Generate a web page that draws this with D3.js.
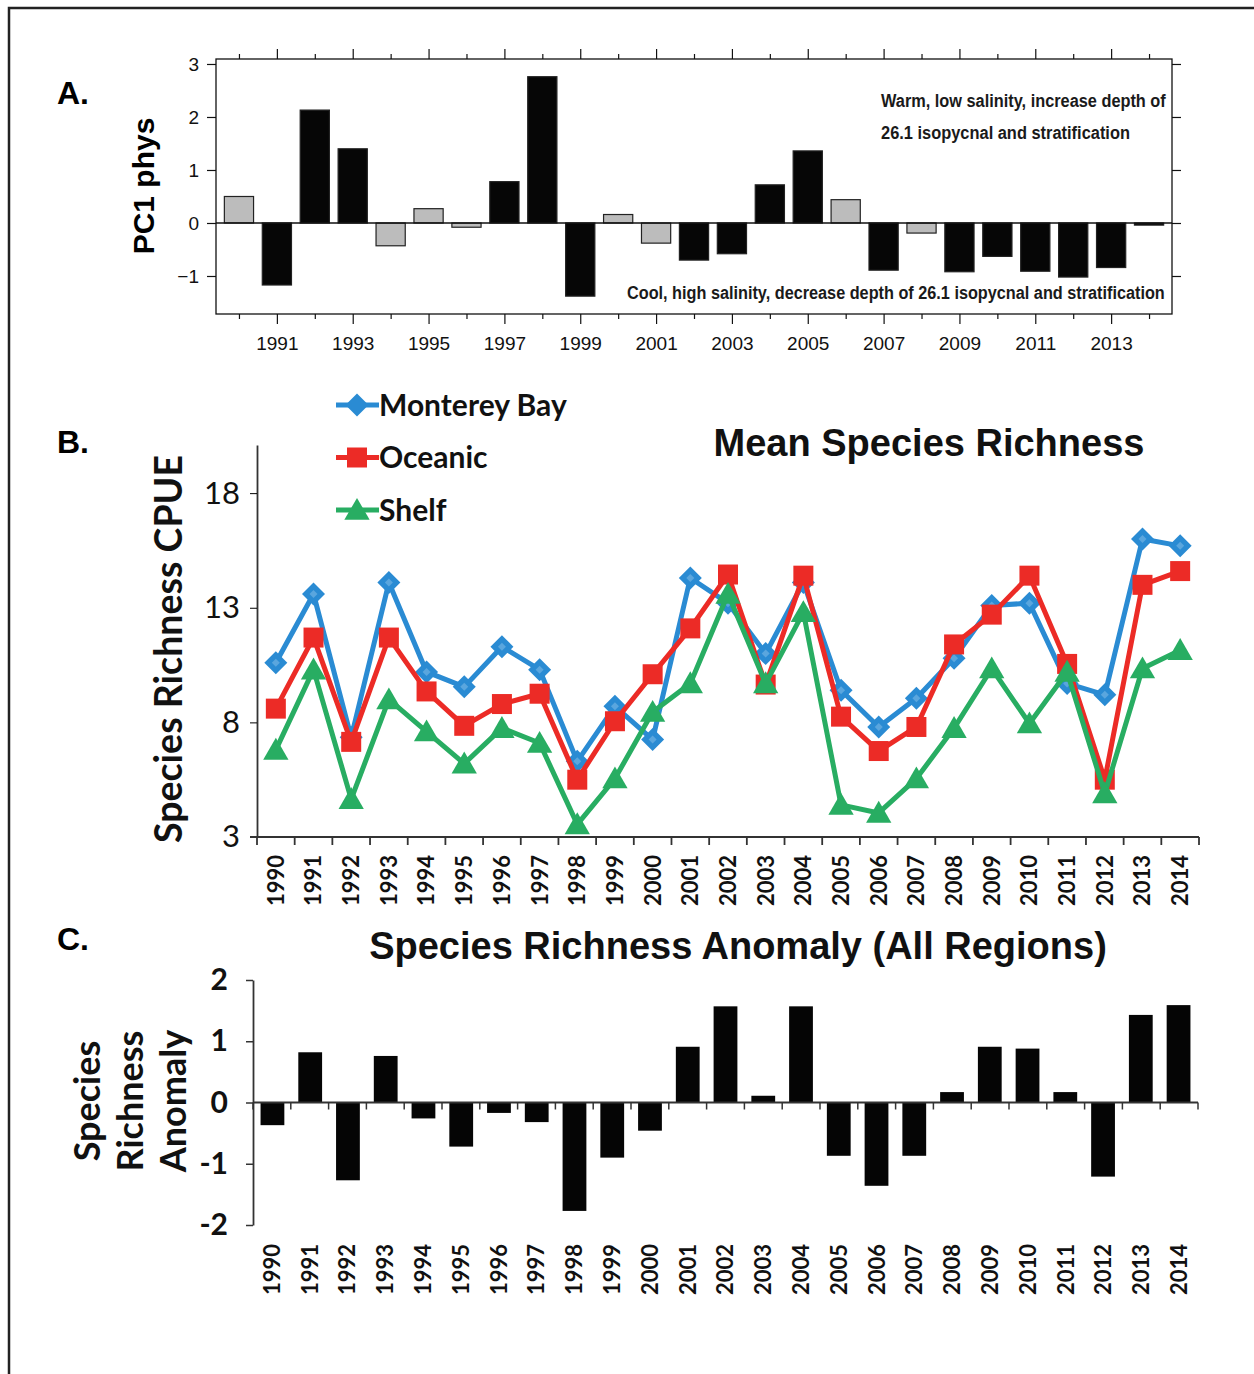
<!DOCTYPE html>
<html>
<head>
<meta charset="utf-8">
<script src="https://cdn.jsdelivr.net/npm/d3@7"></script>
<style>
  body { margin: 0; background: #fff; }
  svg { display: block; }
</style>
</head>
<body>
<div id="chart"></div>
<script>
var width = 1254,
    height = 1374;

// data
var years = d3.range(1990, 2015);

// A. PC1 phys
var pc1Values = [0.50, -1.17, 2.13, 1.40, -0.43, 0.27, -0.08, 0.78, 2.76, -1.38,
                 0.16, -0.38, -0.70, -0.58, 0.72, 1.36, 0.44, -0.89, -0.19, -0.92,
                 -0.63, -0.91, -1.02, -0.84, -0.04];
var pc1Shade  = ["g", "b", "b", "b", "g", "g", "g", "b", "b", "b",
                 "g", "g", "b", "b", "b", "b", "g", "b", "g", "b",
                 "b", "b", "b", "b", "b"];
var pc1Ticks  = [3, 2, 1, 0, -1];

// B. mean species richness
var montereyBay = [10.6, 13.6, 7.35, 14.1, 10.2, 9.55, 11.3, 10.3, 6.3, 8.7,
                   7.25, 14.3, 13.2, 11.0, 14.1, 9.4, 7.8, 9.05, 10.8, 13.1,
                   13.2, 9.7, 9.2, 16.0, 15.7];
var oceanic     = [8.6, 11.7, 7.15, 11.7, 9.35, 7.85, 8.8, 9.25, 5.5, 8.05,
                   10.1, 12.1, 14.45, 9.65, 14.4, 8.25, 6.75, 7.8, 11.4, 12.7,
                   14.4, 10.55, 5.5, 14.0, 14.6];
var shelf       = [6.8, 10.3, 4.65, 9.0, 7.6, 6.2, 7.75, 7.1, 3.55, 5.55,
                   8.45, 9.7, 13.6, 9.7, 12.8, 4.4, 4.05, 5.55, 7.75, 10.35,
                   7.95, 10.2, 4.9, 10.35, 11.15];
var seriesNames = ["Monterey Bay", "Oceanic", "Shelf"];
var seriesColors = ["#2a8bd3", "#ec2b26", "#28ad62"];
var richTicks = [3, 8, 13, 18];

// C. anomaly
var anomaly = [-0.37, 0.82, -1.27, 0.76, -0.26, -0.72, -0.17, -0.32, -1.77, -0.90,
               -0.46, 0.91, 1.57, 0.11, 1.57, -0.87, -1.36, -0.87, 0.17, 0.91,
               0.88, 0.17, -1.21, 1.43, 1.59];
var anomTicks = [2, 1, 0, -1, -2];

var svg = d3.select("#chart").append("svg")
    .attr("width", width)
    .attr("height", height);

// outer frame (top and left edges only show)
svg.append("path")
    .attr("d", "M9,1374 L9,8 L1254,8")
    .attr("fill", "none")
    .attr("stroke", "#222")
    .attr("stroke-width", 2.5);

function panelLabel(txt, x, y) {
    svg.append("text")
        .attr("x", x).attr("y", y)
        .style("font-family", "Liberation Sans, Arial, sans-serif")
        .style("font-weight", "bold")
        .style("font-size", "32px")
        .text(txt);
}
panelLabel("A.", 57, 104);
panelLabel("B.", 57, 453);
panelLabel("C.", 57, 950);

// condensed note text: squeeze horizontally to the wanted width
function note(g, txt, x, y, w) {
    var t = g.append("text")
        .style("font-family", "Liberation Sans Narrow, Arial Narrow, Liberation Sans, sans-serif")
        .style("font-weight", "bold").style("font-size", "19px")
        .attr("fill", "#1a1a1a")
        .text(txt);
    var k = w / t.node().getComputedTextLength();
    t.attr("transform", "translate(" + x + "," + y + ") scale(" + k + ",1)");
}

// Panel A
//-----------------------------------------------------
function panelA() {
    var left = 216, right = 1172, top = 59, bottom = 314;
    var x = d3.scaleBand().domain(years).range([220, 1168]).paddingInner(0.23).paddingOuter(0.115);
    var y = d3.scaleLinear().domain([-1.717, 3.094]).range([bottom, top]);
    var g = svg.append("g");
    var font = "Liberation Sans, Arial, sans-serif";

    g.append("rect")
        .attr("x", left).attr("y", top)
        .attr("width", right - left).attr("height", bottom - top)
        .attr("fill", "none").attr("stroke", "#111").attr("stroke-width", 1.3);

    var odd = years.filter(function(d) { return d % 2 == 1; });
    var even = years.filter(function(d) { return d % 2 == 0; });
    var xc = function(d) { return x(d) + x.bandwidth() / 2; };
    var xs = d3.scaleLinear().domain([1990, 2014]).range([xc(1990), xc(2014)]);

    g.append("g").attr("transform", "translate(0," + bottom + ")")
        .call(d3.axisBottom(xs).tickValues(odd).tickSize(10).tickPadding(13).tickFormat(d3.format("d")));
    g.append("g").attr("transform", "translate(0," + bottom + ")")
        .call(d3.axisBottom(xs).tickValues(even).tickSize(5).tickFormat(""));
    g.append("g").attr("transform", "translate(0," + top + ")")
        .call(d3.axisTop(xs).tickValues(odd).tickSize(10).tickFormat(""));
    g.append("g").attr("transform", "translate(0," + top + ")")
        .call(d3.axisTop(xs).tickValues(even).tickSize(5).tickFormat(""));
    g.append("g").attr("transform", "translate(" + left + ",0)")
        .call(d3.axisLeft(y).tickValues(pc1Ticks).tickSize(9).tickPadding(8)
            .tickFormat(function(d) { return d < 0 ? "\u2212" + (-d) : d; }));
    g.append("g").attr("transform", "translate(" + right + ",0)")
        .call(d3.axisRight(y).tickValues(pc1Ticks).tickSize(9).tickFormat(""));

    g.selectAll(".domain").remove();
    g.selectAll(".tick line").attr("stroke", "#111").attr("stroke-width", 1.2);
    g.selectAll(".tick text")
        .style("font-family", font).style("font-size", "19px").attr("fill", "#111");

    g.selectAll(".bar")
        .data(years)
        .enter().append("rect")
        .attr("class", "bar")
        .attr("x", function(d) { return x(d); })
        .attr("width", x.bandwidth())
        .attr("y", function(d, i) { return y(Math.max(0, pc1Values[i])); })
        .attr("height", function(d, i) { return Math.abs(y(pc1Values[i]) - y(0)); })
        .attr("fill", function(d, i) { return pc1Shade[i] == "g" ? "#bcbcbc" : "#060606"; })
        .attr("stroke", "#222")
        .attr("stroke-width", 1.2);

    g.append("line")
        .attr("x1", left).attr("x2", right)
        .attr("y1", y(0)).attr("y2", y(0))
        .attr("stroke", "#111").attr("stroke-width", 1.3);

    g.append("text")
        .attr("transform", "translate(154,186) rotate(-90)")
        .attr("text-anchor", "middle")
        .style("font-family", font).style("font-weight", "bold").style("font-size", "30px")
        .text("PC1 phys");

    note(g, "Warm, low salinity, increase depth of", 881, 107, 285);
    note(g, "26.1 isopycnal and stratification", 881, 139, 249);
    note(g, "Cool, high salinity, decrease depth of 26.1 isopycnal and stratification", 627, 299, 538);
}

// markers
function markerPath(kind, s) {
    if (kind == 0) return "M0," + (-s) + "L" + s + ",0L0," + s + "L" + (-s) + ",0Z";
    if (kind == 1) return "M" + (-s) + "," + (-s) + "H" + s + "V" + s + "H" + (-s) + "Z";
    return "M0," + (-s * 1.05) + "L" + (s * 1.1) + "," + (s * 0.85) + "L" + (-s * 1.1) + "," + (s * 0.85) + "Z";
}
var markerSize = [11.5, 10, 11.5];

// Panel B
//-----------------------------------------------------
function panelB() {
    var x = d3.scaleBand().domain(years).range([257, 1199]);
    var y = d3.scaleLinear().domain([3, 20.1]).range([837, 445]);
    var g = svg.append("g");
    var font = "Lato, Open Sans, sans-serif";
    var xc = function(d) { return x(d) + x.bandwidth() / 2; };

    var yAx = g.append("g").attr("transform", "translate(257,0)")
        .call(d3.axisLeft(y).tickValues(richTicks).tickSize(7).tickSizeOuter(0).tickPadding(10));
    yAx.select(".domain").attr("stroke", "#333").attr("stroke-width", 1.8);
    yAx.selectAll(".tick text")
        .style("font-family", font).style("font-size", "31px").attr("fill", "#111");

    var boundaries = years.map(function(d) { return x(d); }).concat([x(2014) + x.bandwidth()]);
    g.append("line")
        .attr("x1", 250).attr("x2", 1199).attr("y1", y(3)).attr("y2", y(3))
        .attr("stroke", "#333").attr("stroke-width", 2.2);
    g.selectAll(".xtick").data(boundaries).enter().append("line")
        .attr("x1", function(d) { return d; }).attr("x2", function(d) { return d; })
        .attr("y1", y(3)).attr("y2", y(3) + 8)
        .attr("stroke", "#333").attr("stroke-width", 1.8);

    g.selectAll(".xlab").data(years).enter().append("text")
        .attr("transform", function(d) { return "translate(" + xc(d) + ",855) rotate(-90)"; })
        .attr("text-anchor", "end")
        .attr("dy", "0.36em")
        .style("font-family", font).style("font-weight", "bold").style("font-size", "22px")
        .attr("fill", "#111")
        .text(function(d) { return d; });

    var series = [montereyBay, oceanic, shelf];
    var line = d3.line()
        .x(function(d, i) { return xc(years[i]); })
        .y(function(d) { return y(d); });

    // blue first, then red, then green on top
    [0, 1, 2].forEach(function(k) {
        g.append("path")
            .datum(series[k])
            .attr("d", line)
            .attr("fill", "none")
            .attr("stroke", seriesColors[k])
            .attr("stroke-width", 5)
            .attr("stroke-linejoin", "round");
        g.selectAll(".m" + k).data(series[k]).enter().append("path")
            .attr("transform", function(d, i) { return "translate(" + xc(years[i]) + "," + y(d) + ")"; })
            .attr("d", markerPath(k, markerSize[k]))
            .attr("fill", seriesColors[k]);
        if (k == 0) {
            // lighter diamond centers
            g.selectAll(".mc").data(montereyBay).enter().append("path")
                .attr("transform", function(d, i) { return "translate(" + xc(years[i]) + "," + y(d) + ")"; })
                .attr("d", markerPath(0, 4))
                .attr("fill", "#5aa6de");
        }
    });

    // legend
    var lg = g.append("g");
    seriesNames.forEach(function(name, k) {
        var ly = 405 + k * 52.5;
        lg.append("line")
            .attr("x1", 336).attr("x2", 379).attr("y1", ly).attr("y2", ly)
            .attr("stroke", seriesColors[k]).attr("stroke-width", 5);
        lg.append("path")
            .attr("transform", "translate(357," + ly + ")")
            .attr("d", markerPath(k, markerSize[k]))
            .attr("fill", seriesColors[k]);
        lg.append("text")
            .attr("x", 379).attr("y", ly).attr("dy", "0.35em")
            .style("font-family", font).style("font-weight", "bold").style("font-size", "30px")
            .attr("fill", "#111")
            .text(name);
    });

    g.append("text")
        .attr("x", 929).attr("y", 456)
        .attr("text-anchor", "middle")
        .style("font-family", "Liberation Sans, Arial, sans-serif")
        .style("font-weight", "bold").style("font-size", "38px")
        .attr("fill", "#111")
        .text("Mean Species Richness");

    g.append("text")
        .attr("transform", "translate(182,649) rotate(-90)")
        .attr("text-anchor", "middle")
        .style("font-family", font).style("font-size", "37.5px").style("font-weight", "bold")
        .attr("fill", "#111")
        .text("Species Richness CPUE");
}

// Panel C
//-----------------------------------------------------
function panelC() {
    var x = d3.scaleBand().domain(years).range([253, 1198]).paddingInner(0.37).paddingOuter(0.2);
    var y = d3.scaleLinear().domain([-2, 2]).range([1225, 980]);
    var g = svg.append("g");
    var font = "Lato, Open Sans, sans-serif";
    var xb = d3.scaleBand().domain(years).range([253, 1198]);

    var yAx = g.append("g").attr("transform", "translate(253,0)")
        .call(d3.axisLeft(y).tickValues(anomTicks).tickSize(7).tickSizeOuter(0).tickPadding(18)
            .tickFormat(d3.format("d")));
    yAx.select(".domain").attr("stroke", "#333").attr("stroke-width", 1.8);
    yAx.selectAll(".tick line").attr("stroke", "#333").attr("stroke-width", 1.5);
    yAx.selectAll(".tick text")
        .text(function(d) { return d < 0 ? "-" + (-d) : d; })
        .style("font-family", font).style("font-weight", "bold").style("font-size", "30px").attr("fill", "#111");

    g.selectAll(".bar").data(years).enter().append("rect")
        .attr("x", function(d) { return x(d); })
        .attr("width", x.bandwidth())
        .attr("y", function(d, i) { return y(Math.max(0, anomaly[i])); })
        .attr("height", function(d, i) { return Math.abs(y(anomaly[i]) - y(0)); })
        .attr("fill", "#050505");

    g.append("line")
        .attr("x1", 253).attr("x2", 1198).attr("y1", y(0)).attr("y2", y(0))
        .attr("stroke", "#333").attr("stroke-width", 2);
    var boundaries = years.map(function(d) { return xb(d); }).concat([1198]);
    g.selectAll(".xtick").data(boundaries).enter().append("line")
        .attr("x1", function(d) { return d; }).attr("x2", function(d) { return d; })
        .attr("y1", y(0)).attr("y2", y(0) + 7)
        .attr("stroke", "#333").attr("stroke-width", 1.5);

    g.selectAll(".xlab").data(years).enter().append("text")
        .attr("transform", function(d) { return "translate(" + (xb(d) + xb.bandwidth() / 2) + ",1244) rotate(-90)"; })
        .attr("text-anchor", "end")
        .attr("dy", "0.36em")
        .style("font-family", font).style("font-weight", "bold").style("font-size", "22px")
        .attr("fill", "#111")
        .text(function(d) { return d; });

    g.append("text")
        .attr("x", 738).attr("y", 959)
        .attr("text-anchor", "middle")
        .style("font-family", "Liberation Sans, Arial, sans-serif")
        .style("font-weight", "bold").style("font-size", "38px")
        .attr("fill", "#111")
        .text("Species Richness Anomaly (All Regions)");

    ["Species", "Richness", "Anomaly"].forEach(function(t, i) {
        g.append("text")
            .attr("transform", "translate(" + (100 + i * 43) + ",1101) rotate(-90)")
            .attr("text-anchor", "middle")
            .style("font-family", font).style("font-weight", "bold").style("font-size", "36px")
            .attr("fill", "#111")
            .text(t);
    });
}

panelA();
panelB();
panelC();
</script>
</body>
</html>
